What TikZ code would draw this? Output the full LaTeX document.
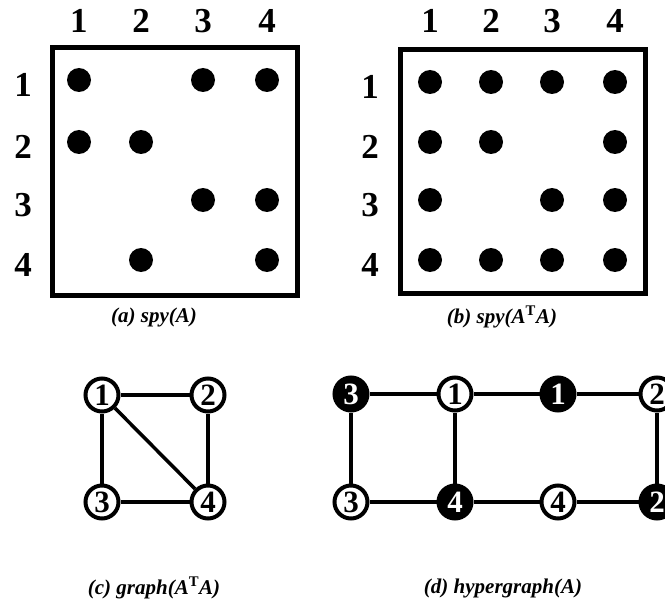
\documentclass[tikz,border=0pt]{standalone}
\usepackage{fontspec}
\setmainfont{Liberation Serif}
\usetikzlibrary{positioning}

\begin{document}
\begin{tikzpicture}[x=1pt,y=-1pt,
          idx/.style={font=\fontsize{35}{35}\selectfont\bfseries,inner sep=0pt},
          dot/.style={circle,fill=black,minimum size=24pt,inner sep=0pt},
          frame/.style={draw,line width=5pt},
          vtx/.style={circle,draw,line width=4pt,fill=white,minimum size=33pt,
                      inner sep=0pt,font=\fontsize{31}{31}\selectfont\bfseries},
          hvtx/.style={vtx,fill=black,text=white},
          edge/.style={line width=3.5pt},
          caption/.style={font=\fontsize{21}{21}\selectfont\bfseries\itshape}]
        \useasboundingbox (0,0) rectangle (665,602);
        % (a) pattern of A
        \draw[frame] (52,48) rectangle (297,295);
        \foreach \j/\x in {1/79,2/141,3/203,4/267}{%
          \node[idx] (acol\j) at (\x,21) {\j};
        }
        \foreach \i/\y in {1/80,2/142,3/200,4/260}{%
          \node[idx] (arow\i) at (23,\y+5) {\i};
        }
        \foreach \i/\j in {1/1,1/3,1/4,2/1,2/2,3/3,3/4,4/2,4/4}{%
          \node[dot] (a\i\j) at (acol\j |- arow\i) [yshift=5pt] {};
        }
        \node[caption] (capa) at (154,317) {(a) spy(A)};
        % (b) pattern of A^T A
        \draw[frame] (400,50) rectangle (645,293);
        \foreach \j/\x in {1/430,2/491,3/552,4/615}{%
          \node[idx] (bcol\j) at (\x,21) {\j};
        }
        \foreach \i/\y in {1/82,2/142,3/200,4/260}{%
          \node[idx] (brow\i) at (370,\y+5) {\i};
        }
        \foreach \i/\j in {1/1,1/2,1/3,1/4,2/1,2/2,2/4,3/1,3/3,3/4,4/1,4/2,4/3,4/4}{%
          \node[dot] (b\i\j) at (bcol\j |- brow\i) [yshift=5pt] {};
        }
        \node[caption] (capb) at (502,317) {(b) spy(A\textsuperscript{\upshape T}A)};
        % (c) graph of A^T A
        \node[vtx] (c1) at (102,395) {1};
        \node[vtx] (c2) at (208,395) {2};
        \node[vtx] (c3) at (102,502) {3};
        \node[vtx] (c4) at (208,502) {4};
        \foreach \u/\v in {1/2,1/3,1/4,2/4,3/4}{%
          \draw[edge] (c\u) -- (c\v);
        }
        \node[caption] (capc) at (154,588) {(c) graph(A\textsuperscript{\upshape T}A)};
        % (d) hypergraph of A: black = row, white = column
        \node[hvtx] (r3) at (351,394) {3};
        \node[vtx]  (k1) at (455,394) {1};
        \node[hvtx] (r1) at (558,394) {1};
        \node[vtx]  (k2) at (657,394) {2};
        \node[vtx]  (k3) at (351,502) {3};
        \node[hvtx] (r4) at (455,502) {4};
        \node[vtx]  (k4) at (558,502) {4};
        \node[hvtx] (r2) at (657,502) {2};
        \foreach \u/\v in {r3/k1,k1/r1,r1/k2,k3/r4,r4/k4,k4/r2,r3/k3,k1/r4,k2/r2}{%
          \draw[edge] (\u) -- (\v);
        }
        \node[caption] (capd) at (503,588) {(d) hypergraph(A)};
      \end{tikzpicture}
\end{document}
